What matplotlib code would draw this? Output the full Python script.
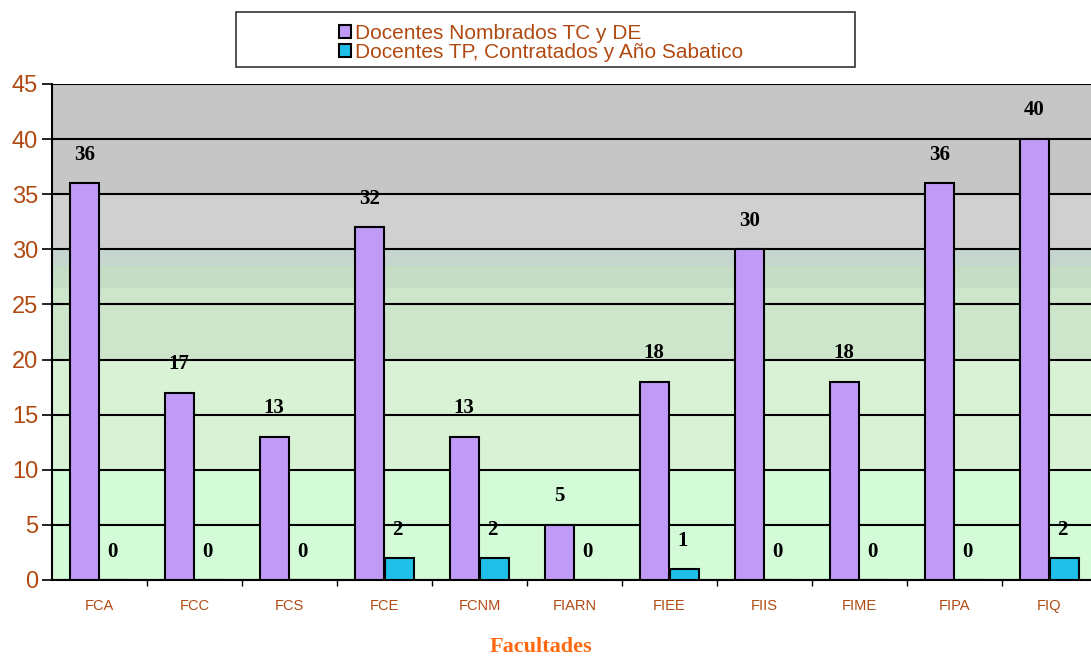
import numpy as np
import matplotlib
matplotlib.use('Agg')
import matplotlib.pyplot as plt
from matplotlib.patches import Rectangle

plt.rcParams['font.family'] = ['Liberation Sans', 'DejaVu Sans']

# data
facultades = ["FCA", "FCC", "FCS", "FCE", "FCNM", "FIARN", "FIEE", "FIIS", "FIME", "FIPA", "FIQ"]
nombrados = [36, 17, 13, 32, 13, 5, 18, 30, 18, 36, 40]
contratados = [0, 0, 0, 2, 2, 0, 1, 0, 0, 0, 2]
serie_nombres = ["Docentes Nombrados TC y DE", "Docentes TP, Contratados y Año Sabatico"]
yticks = [0, 5, 10, 15, 20, 25, 30, 35, 40, 45]

# background bands (value ranges and colours)
bandas = [
    (0, 10, "#d4fbd7"),
    (10, 20, "#d9f2d5"),
    (20, 26.5, "#cde5cb"),
    (26.5, 28.5, "#c5dcc5"),
    (28.5, 30, "#c6d6cf"),
    (30, 35, "#d0d0d0"),
    (35, 45, "#c6c6c6"),
]

brown = "#b04a12"
purple = "#c09af7"
cyan = "#1fbfe9"

fig = plt.figure(figsize=(10.91, 6.56), dpi=100)
ax = fig.add_axes([52 / 1091, 76 / 656, 1045 / 1091, 496 / 656])

for lo, hi, c in bandas:
    ax.axhspan(lo, hi, color=c, zorder=0, lw=0)

x = np.arange(len(facultades))
w = 0.3
off = 0.16
b1 = ax.bar(x - off, nombrados, w, color=purple, edgecolor="black", linewidth=1.5, zorder=3,
            label=serie_nombres[0])
b2 = ax.bar(x + off, contratados, w, color=cyan, edgecolor="black", linewidth=1.5, zorder=3,
            label=serie_nombres[1])

for xi, v in zip(x - off, nombrados):
    ax.text(xi, v + 2.6, str(v), ha="center", va="center", fontsize=15, fontweight="bold",
            family="Liberation Serif", zorder=4)
for xi, v in zip(x + off, contratados):
    ax.text(xi - 0.02, v + 2.5, str(v), ha="center", va="center", fontsize=15, fontweight="bold",
            family="Liberation Serif", zorder=4)

ax.set_ylim(0, 45)
ax.set_xlim(-0.5, len(facultades) - 0.5)
ax.set_yticks(yticks)
ax.yaxis.grid(True, color="black", linewidth=1.5, zorder=2)
ax.set_axisbelow(False)
for gl in ax.get_ygridlines():
    gl.set_zorder(2)

ax.set_xticks(x)
ax.set_xticklabels(facultades, color=brown, fontsize=10.5)
ax.set_xticks(np.arange(0.5, len(facultades) - 0.5, 1), minor=True)
ax.tick_params(axis="x", which="major", length=0, pad=14)
ax.tick_params(axis="x", which="minor", length=4, width=1)
ax.tick_params(axis="y", labelsize=17, labelcolor=brown, length=7, width=1.2, pad=3)

for s in ["top", "right"]:
    ax.spines[s].set_visible(False)
ax.spines["left"].set_linewidth(1.5)
ax.spines["bottom"].set_linewidth(1.5)

fig.text(541 / 1091, 1 - 647 / 656, "Facultades", fontsize=16, fontweight="bold",
         color="#ff6a10", family="Liberation Serif", ha="center", va="center")

# legend box
fig.patches.append(Rectangle((236 / 1091, 1 - 67 / 656), 619 / 1091, 55 / 656,
                             transform=fig.transFigure, facecolor="white",
                             edgecolor="#333333", linewidth=1.2))
leg = fig.legend(handles=[b1, b2], loc="upper left", bbox_to_anchor=(324 / 1091, 1 - 9 / 656),
                 frameon=False, fontsize=15, handlelength=0.6, handleheight=0.6,
                 handletextpad=0.2, labelspacing=0.0, borderpad=0.2)
for t in leg.get_texts():
    t.set_color(brown)

fig.savefig("out.png", dpi=100)
